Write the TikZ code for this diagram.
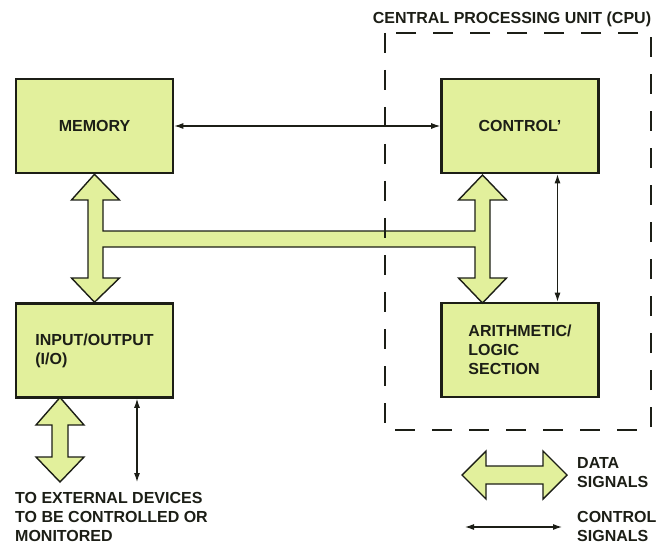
\documentclass[tikz,border=0pt]{standalone}
\usepackage{fontspec}
\setmainfont{Liberation Sans}
\usetikzlibrary{arrows.meta}
\definecolor{blockfill}{RGB}{226,240,156}
\definecolor{blockline}{RGB}{28,30,22}

\begin{document}
\begin{tikzpicture}[x=1pt, y=-1pt,
    every node/.style={font=\bfseries\fontsize{16}{19}\selectfont, text=blockline},
    block/.style={draw=blockline, fill=blockfill, line width=2.6pt, minimum width=157pt, minimum height=94pt, align=left, inner sep=0pt},
    bus/.style={draw=blockline, fill=blockfill, line width=1.4pt, line join=miter},
    sig/.style={draw=blockline, line width=1.1pt, {Latex[length=9pt,width=6pt]}-{Latex[length=9pt,width=6pt]}},
    cpubox/.style={draw=blockline, line width=1.5pt, dash pattern=on 20pt off 17pt},
    legend/.style={anchor=north west, align=left, inner sep=0pt}]

    \useasboundingbox (0,0) rectangle (663,545);

    % Define the 4 blocks (pixel layout of the screenshot)
    \node[block] (mem)  at (94.5,126)  {MEMORY};
    \node[block] (ctrl) at (520,126)   {CONTROL'};
    \node[block] (io)   at (94.5,350.5) {INPUT/OUTPUT\\(I/O)};
    \node[block] (alu)  at (520,350)   {ARITHMETIC/\\LOGIC\\SECTION};

    % Data bus (fat double arrows joined by the bar)
    \draw[bus] (mem.south) -- (119.5,200) -- (103,200) -- (103,231) -- (475,231)
        -- (475,200) -- (458.5,200) -- (482.5,175) -- (506.5,200) -- (490,200)
        -- (490,278) -- (506.5,278) -- (482.5,303) -- (458.5,278) -- (475,278)
        -- (475,247) -- (103,247) -- (103,278) -- (119.5,278) -- (io.north)
        -- (71.5,278) -- (88,278) -- (88,200) -- (71.5,200) -- cycle;

    % I/O to the outside
    \coordinate (extdata) at (60,482);
    \coordinate (extctrl) at (137,482);
    \draw[bus] (60,397.5) -- (84,425) -- (68,425) -- (68,457) -- (84,457)
        -- (extdata) -- (36,457) -- (52,457) -- (52,425) -- (36,425) -- cycle;

    % Control signals
    \draw[sig] (mem.east) -- (ctrl.west);
    \draw[sig] ([xshift=37.5pt]ctrl.south) -- ([xshift=37.5pt]alu.north);
    \draw[sig] ([xshift=42.5pt]io.south) -- (extctrl);

    % CPU outline
    \draw[cpubox] (385,33) rectangle (651,430);
    \node (cpu) at (512,19) {CENTRAL PROCESSING UNIT (CPU)};

    % Labels
    \node[legend] (ext) at (15,492) {TO EXTERNAL DEVICES\\TO BE CONTROLLED OR\\MONITORED};

    % Legend
    \coordinate (lgA) at (465,527);
    \coordinate (lgB) at (562,527);
    \draw[bus] (462,475) -- (486,451) -- (486,466) -- (543,466) -- (543,451)
        -- (567,475) -- (543,499) -- (543,484) -- (486,484) -- (486,499) -- cycle;
    \draw[sig] (lgA) -- (lgB);
    \node[legend] (lgdata) at (577,457) {DATA\\SIGNALS};
    \node[legend] (lgctrl) at (577,511) {CONTROL\\SIGNALS};
\end{tikzpicture}
\end{document}
